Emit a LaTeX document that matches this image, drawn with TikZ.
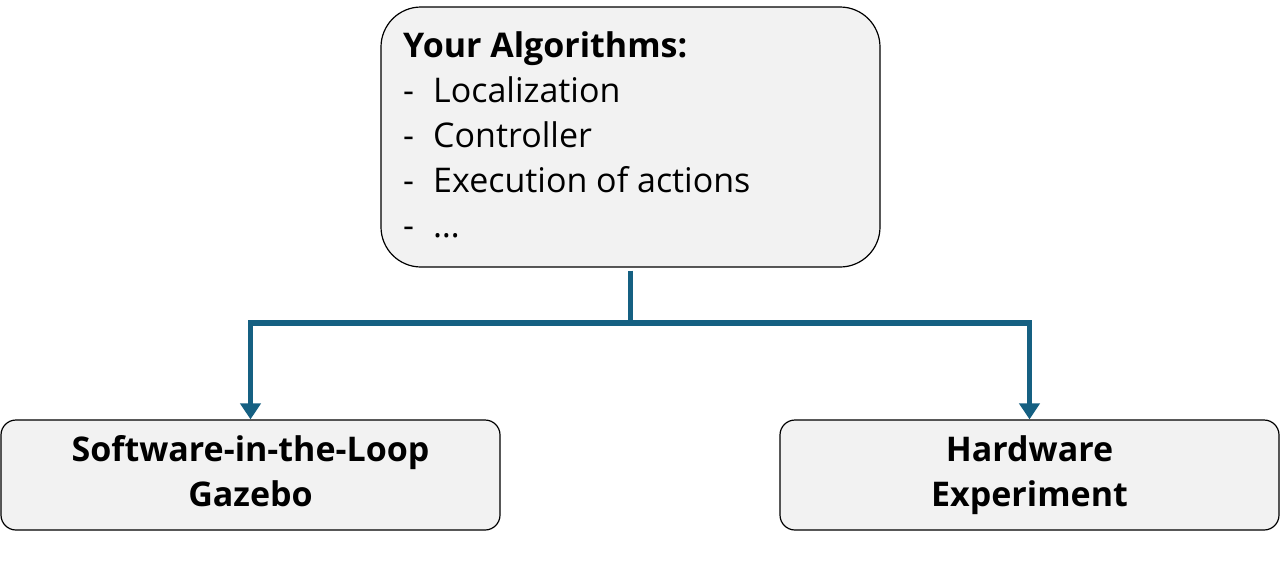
\documentclass[tikz,border=0pt]{standalone}
\usepackage{fontspec}
\setmainfont{Open Sans}
\usetikzlibrary{arrows.meta,positioning}
\definecolor{flowblue}{HTML}{156082}
\definecolor{boxgray}{HTML}{F2F2F2}
\begin{document}
\begin{tikzpicture}[x=1pt,y=-1pt,
  box/.style={draw=black,line width=1.2pt,fill=boxgray,inner sep=0pt},
  target/.style={box,rounded corners=15pt,minimum width=499pt,minimum height=110pt,
    align=center,font=\fontsize{34}{45}\selectfont\bfseries},
  flow/.style={flowblue,line width=5.5pt,-{Triangle[width=20pt,length=16pt]}},
  font=\fontsize{34}{45}\selectfont]
\useasboundingbox (0,0) rectangle (1280,576);
\node[box,rounded corners=40pt,minimum width=499pt,minimum height=260pt] (algo) at (630.5,137) {};
\node[anchor=base west,inner sep=0pt] (head) at (403,57) {\textbf{Your Algorithms:}};
\foreach [count=\Z] \T in {Localization,Controller,Execution of actions,\dots}
{\node[anchor=base west,inner sep=0pt] (item\Z) at (403,{57+45*\Z}) {\makebox[30pt][l]{-}\T};}
\node[target] (sil) at (250.5,475) {\strut Software-in-the-Loop\\\strut Gazebo};
\node[target] (hw) at (1029.5,475) {\strut Hardware\\\strut Experiment};
\coordinate (fork) at (algo.south |- {(0,323)});
\draw[flow] ([yshift=-3pt]algo.south) -- (fork) -| (sil.north);
\draw[flow] (fork) -| (hw.north);
\end{tikzpicture}
\end{document}
